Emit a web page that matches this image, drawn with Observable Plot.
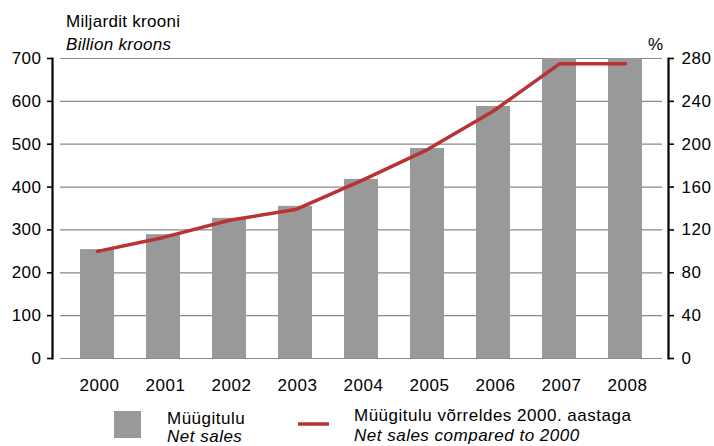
<!DOCTYPE html>
<html><head><meta charset="utf-8">
<script src="https://cdn.jsdelivr.net/npm/d3@7"></script>
<script src="https://cdn.jsdelivr.net/npm/@observablehq/plot@0.6"></script>
<style>
body{margin:0;background:#fff;}
#chart svg{font-family:"Liberation Sans",Arial,sans-serif;}
</style>
</head><body><div id="chart"></div>
<script>
const years = ["2000","2001","2002","2003","2004","2005","2006","2007","2008"];
const netSales = [254, 289, 327, 355, 418, 490, 588, 700, 700];
const pctOf2000 = [100, 113, 129, 139, 166, 195, 231, 275, 275];
const leftTicks = [0, 100, 200, 300, 400, 500, 600, 700];
const rightTicks = [0, 40, 80, 120, 160, 200, 240, 280];
const titleLines = ["Miljardit krooni", "Billion kroons"];
const rightUnit = "%";
const legendBar = ["Müügitulu", "Net sales"];
const legendLine = ["Müügitulu võrreldes 2000. aastaga", "Net sales compared to 2000"];

const barColor = "#999999";
const lineColor = "#b83333";
const ratio = 700 / 280;
const rows = years.map((y, i) => ({year: y, sales: netSales[i], pct: pctOf2000[i]}));

const plot = Plot.plot({
  width: 714, height: 446,
  marginTop: 58, marginBottom: 88, marginLeft: 60, marginRight: 52,
  style: {fontFamily: '"Liberation Sans", Arial, sans-serif', fontSize: "17px", color: "#000", background: "#fff", letterSpacing: "0.5px"},
  x: {domain: years, paddingInner: 0.49, paddingOuter: 0.245},
  y: {domain: [0, 700]},
  marks: [
    Plot.gridY(leftTicks, {stroke: "#8a8a8a", strokeOpacity: 1, strokeWidth: 1.2}),
    Plot.barY(rows, {x: "year", y: "sales", fill: barColor}),
    Plot.lineY(rows, {x: "year", y: d => d.pct * ratio, stroke: lineColor, strokeWidth: 3.5}),
    Plot.axisY(leftTicks, {anchor: "left", tickSize: 5, tickPadding: 6, dx: -8, strokeWidth: 1.6, label: null}),
    Plot.frame({anchor: "left", dx: -8, strokeWidth: 2.2}),
    Plot.axisY(rightTicks.map(v => v * ratio), {anchor: "right", tickSize: 5, tickPadding: 8, dx: 6, strokeWidth: 1.6, tickFormat: v => Math.round(v / ratio), label: null}),
    Plot.frame({anchor: "right", dx: 6, strokeWidth: 2.2}),
    Plot.axisX({tickSize: 0, tickPadding: 20, dx: 2, label: null})
  ]
});

const svg = d3.select(plot);
function addText(x, y, str, opts = {}) {
  const t = svg.append("text").attr("x", x).attr("y", y).text(str)
    .attr("font-size", opts.size || 17)
    .attr("letter-spacing", opts.ls != null ? opts.ls : 0.5)
    .attr("text-anchor", opts.anchor || "start")
    .attr("fill", "#000");
  if (opts.italic) t.attr("font-style", "italic");
  return t;
}
addText(66, 26.5, titleLines[0], {ls: 0.3});
addText(66, 50, titleLines[1], {italic: true, ls: 0.3});
addText(663, 50, rightUnit, {anchor: "end", ls: 0});

// legend
svg.append("rect").attr("x", 114).attr("y", 411).attr("width", 27).attr("height", 27).attr("fill", barColor);
addText(167, 424, legendBar[0]);
addText(167, 441.5, legendBar[1], {italic: true});
svg.append("line").attr("x1", 298).attr("x2", 329).attr("y1", 424).attr("y2", 424)
  .attr("stroke", lineColor).attr("stroke-width", 3.5);
addText(354, 421, legendLine[0]);
addText(354, 441, legendLine[1], {italic: true});

document.getElementById("chart").appendChild(plot);
</script>
</body></html>
